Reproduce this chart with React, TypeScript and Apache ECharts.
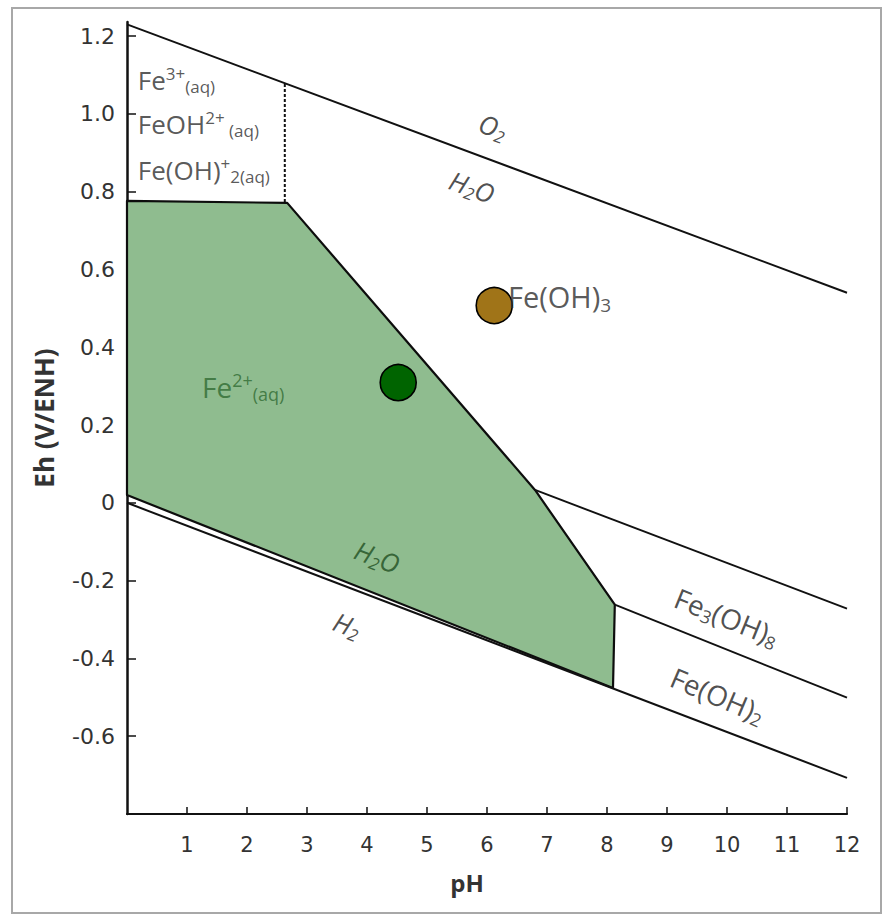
import React, { useEffect, useRef } from "react";
import * as echarts from "echarts";

// ---- axis ticks ----
const phTicks = [1, 2, 3, 4, 5, 6, 7, 8, 9, 10, 11, 12];
const ehTicks = [-0.6, -0.4, -0.2, 0, 0.2, 0.4, 0.6, 0.8, 1.0, 1.2];
const ehTickLabels = ["-0.6", "-0.4", "-0.2", "0", "0.2", "0.4", "0.6", "0.8", "1.0", "1.2"];

// ---- boundaries [pH, Eh] ----
const o2WaterLine = [[0, 1.23], [12, 0.54]];
const waterH2Line = [[0, 0.0], [12, -0.707]];
const fe3o4Line = [[6.8, 0.033], [12, -0.272]];
const feOH2Line = [[8.13, -0.262], [12, -0.501]];
const fe3DashedLine = [[2.63, 0.773], [2.63, 1.079]];
const fe2Region = [
  [0, 0.776],
  [2.67, 0.771],
  [6.8, 0.033],
  [8.13, -0.262],
  [8.1, -0.476],
  [0, 0.02],
];

// ---- sample points [pH, Eh] ----
const fe2Sample = [4.52, 0.309];
const feOH3Sample = [6.12, 0.507];

// ---- region labels ----
const labelTexts = [
  "{n|Fe}{sup|3+}{sub|(aq)}",
  "{n|FeOH}{sup|2+}{sub| (aq)}",
  "{n|Fe(OH)}{sup|+}{sub|2(aq)}",
  "{n|O}{sub|2}",
  "{n|H}{sub|2}{n|O}",
  "{n|Fe(OH)}{sub|3}",
  "{n|Fe}{sup|2+}{sub|(aq)}",
  "{n|H}{sub|2}{n|O}",
  "{n|H}{sub|2}",
  "{n|Fe}{sub|3}{n|(OH)}{sub|8}",
  "{n|Fe(OH)}{sub|2}",
];
const labelAnchors = [
  [0.18, 1.087],
  [0.18, 0.974],
  [0.18, 0.856],
  [6.1, 0.967],
  [5.75, 0.812],
  [6.35, 0.53],
  [1.25, 0.298],
  [4.17, -0.139],
  [3.67, -0.314],
  [10.0, -0.293],
  [9.85, -0.494],
];

const FONT = "'Open Sans', sans-serif";
const TICK_FONT = "'DejaVu Sans', sans-serif";
const TEXT = "#2e2e2e";
const GREEN_TEXT = "#2f6b32";

const labelStyles = [
  { color: TEXT, size: 26, italic: false, rotate: 0, align: "left" },
  { color: TEXT, size: 26, italic: false, rotate: 0, align: "left" },
  { color: TEXT, size: 26, italic: false, rotate: 0, align: "left" },
  { color: "#222", size: 26, italic: true, rotate: -20, align: "center" },
  { color: "#222", size: 26, italic: true, rotate: -20, align: "center" },
  { color: TEXT, size: 29, italic: false, rotate: 0, align: "left" },
  { color: GREEN_TEXT, size: 28, italic: false, rotate: 0, align: "left" },
  { color: "#1f4f22", size: 26, italic: true, rotate: -21, align: "center" },
  { color: "#222", size: 26, italic: true, rotate: -21, align: "center" },
  { color: "#222", size: 28, italic: false, rotate: -22, align: "center" },
  { color: "#222", size: 28, italic: false, rotate: -23, align: "center" },
];

function makeRich(color: string, size: number, italic: boolean) {
  const base = {
    color,
    fontFamily: FONT,
    fontSize: size,
    fontStyle: italic ? "italic" : "normal",
  };
  const small = Math.round(size * 0.66);
  return {
    n: { ...base },
    sup: { ...base, fontSize: small, padding: [0, 0, Math.round(size * 0.5), 0] },
    sub: { ...base, fontSize: small, padding: [Math.round(size * 0.55), 0, 0, 0] },
  };
}

export default function App() {
  const ref = useRef<HTMLDivElement>(null);

  useEffect(() => {
    if (!ref.current) return;
    const chart = echarts.init(ref.current, null, { renderer: "svg" });

    const lineSeries = (data: number[][], dashed = false, width = 1.9) => ({
      type: "line",
      data,
      symbol: "none",
      silent: true,
      z: 3,
      lineStyle: { color: "#111", width, type: dashed ? [3, 2] : "solid" },
    });

    const option: any = {
      animation: false,
      backgroundColor: "#ffffff",
      grid: { left: 127, right: 37, top: 22, bottom: 101, outerBoundsMode: "none" },
      xAxis: {
        type: "value",
        min: 0,
        max: 12,
        name: "pH",
        nameLocation: "middle",
        nameGap: 56,
        nameTextStyle: {
          fontFamily: FONT,
          fontSize: 24,
          fontWeight: "bold",
          color: "#333",
          padding: [0, 40, 0, 0],
        },
        axisLine: { show: true, onZero: false, lineStyle: { color: "#111", width: 2.2 } },
        axisTick: { show: true, inside: true, length: 7, customValues: phTicks, lineStyle: { color: "#111", width: 1.5 } },
        axisLabel: {
          customValues: phTicks,
          margin: 20,
          fontFamily: TICK_FONT,
          fontSize: 21,
          color: "#333",
        },
        splitLine: { show: false },
      },
      yAxis: {
        type: "value",
        min: -0.8,
        max: 1.236,
        name: "Eh (V/ENH)",
        nameLocation: "middle",
        nameGap: 70,
        nameTextStyle: { fontFamily: FONT, fontSize: 26, fontWeight: "bold", color: "#333" },
        axisLine: { show: true, onZero: false, lineStyle: { color: "#111", width: 2.5 } },
        axisTick: { show: true, inside: true, length: 9, customValues: ehTicks, lineStyle: { color: "#111", width: 1.5 } },
        axisLabel: {
          customValues: ehTicks,
          margin: 12,
          fontFamily: TICK_FONT,
          fontSize: 22,
          color: "#333",
          formatter: (v: number) => {
            const i = ehTicks.findIndex((t) => Math.abs(t - v) < 1e-6);
            return i >= 0 ? ehTickLabels[i] : "";
          },
        },
        splitLine: { show: false },
      },
      graphic: [
        {
          type: "rect",
          shape: { x: 12, y: 8, width: 869, height: 905 },
          style: { fill: "none", stroke: "#a8a8a8", lineWidth: 2 },
          silent: true,
          z: -1,
        },
      ],
      series: [
        {
          type: "custom",
          coordinateSystem: "cartesian2d",
          data: fe2Region,
          encode: { x: 0, y: 1 },
          silent: true,
          z: 1,
          renderItem: (params: any, api: any) => {
            if (params.dataIndex !== 0) return null;
            const pts = fe2Region.map((p) => api.coord(p));
            return {
              type: "polygon",
              shape: { points: pts },
              style: { fill: "#8fbc8f", stroke: "#0d0d0d", lineWidth: 2.2, lineJoin: "round" },
            };
          },
        },
        lineSeries(o2WaterLine),
        lineSeries(waterH2Line, false, 2),
        lineSeries(fe3o4Line),
        lineSeries(feOH2Line),
        lineSeries(fe3DashedLine, true, 2),
        {
          type: "scatter",
          data: [fe2Sample],
          symbolSize: 36,
          silent: true,
          z: 5,
          itemStyle: { color: "#006400", borderColor: "#000", borderWidth: 1.6, opacity: 1 },
        },
        {
          type: "scatter",
          data: [feOH3Sample],
          symbolSize: 36,
          silent: true,
          z: 5,
          itemStyle: { color: "#a07418", borderColor: "#000", borderWidth: 1.6, opacity: 1 },
        },
        {
          type: "scatter",
          silent: true,
          symbolSize: 1,
          z: 6,
          itemStyle: { color: "rgba(0,0,0,0)" },
          data: labelTexts.map((t, i) => {
            const s = labelStyles[i];
            return {
              value: labelAnchors[i],
              label: {
                show: true,
                position: "inside",
                formatter: t,
                rotate: s.rotate,
                align: s.align,
                verticalAlign: "middle",
                rich: makeRich(s.color, s.size, s.italic),
              },
            };
          }),
        },
      ],
    };

    chart.setOption(option);
    return () => chart.dispose();
  }, []);

  return (
    <div
      ref={ref}
      style={{ position: "fixed", left: 0, top: 0, width: 884, height: 915, background: "#fff" }}
    />
  );
}
